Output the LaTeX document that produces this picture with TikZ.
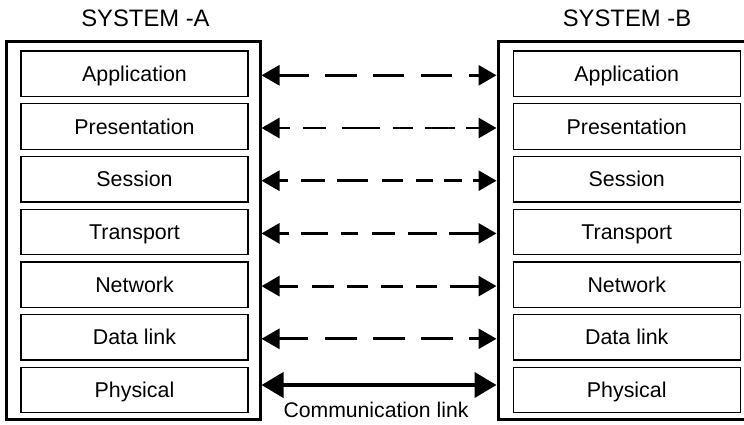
\documentclass[tikz,border=0pt]{standalone}
\usepackage{fontspec}
\setmainfont{Liberation Sans}
\usetikzlibrary{arrows.meta,calc}
\begin{document}
\begin{tikzpicture}[x=1pt,y=-1pt,
  outerbox/.style={draw, line width=3pt, minimum width=254pt, minimum height=378pt, inner sep=0pt},
  layer/.style={draw, line width=1.3pt, minimum width=227pt, minimum height=45.5pt,
    inner sep=0pt, text height=15.2pt, text depth=0pt, font=\fontsize{21.4}{24}\selectfont},
  systitle/.style={anchor=base, inner sep=0pt, font=\fontsize{23.8}{27}\selectfont},
  linklabel/.style={anchor=base, inner sep=0pt, font=\fontsize{21.2}{24}\selectfont},
  peer/.style={line width=2.8pt,
    {Triangle[length=18pt,width=20pt]}-{Triangle[length=18pt,width=20pt]}},
  physlink/.style={line width=4pt,
    {Triangle[length=22pt,width=25pt]}-{Triangle[length=22pt,width=25pt]}},
  dashA/.style={dash pattern=on 30pt off 16pt on 32pt off 16pt on 31pt off 17pt on 31pt off 17pt on 60pt off 0pt},
  dashB/.style={dash pattern=on 11pt off 13pt on 23pt off 16pt on 38pt off 13pt on 20pt off 12pt on 30pt off 11pt on 60pt off 0pt},
  dashC/.style={dash pattern=on 9pt off 13pt on 24pt off 12pt on 31pt off 14pt on 21pt off 13pt on 17pt off 11pt on 18pt off 11pt on 60pt off 0pt},
  dashD/.style={dash pattern=on 10pt off 12pt on 27pt off 13pt on 17pt off 14pt on 23pt off 13pt on 29pt off 12pt on 60pt off 0pt},
  dashE/.style={dash pattern=on 19pt off 14pt on 22pt off 13pt on 21pt off 13pt on 22pt off 13pt on 21pt off 13pt on 60pt off 0pt},
  dashF/.style={dash pattern=on 29pt off 17pt on 32pt off 16pt on 32pt off 16pt on 32pt off 16pt on 60pt off 0pt}
]
\useasboundingbox (0,0) rectangle (744,424);

% system titles
\node[systitle] (titleA) at (145.5,26) {SYSTEM -A};
\node[systitle] (titleB) at (627,26) {SYSTEM -B};

% outer system frames
\node[outerbox] (sysA) at (133,230) {};
\node[outerbox] (sysB) at (625,230) {};

% protocol layers of both systems
\foreach \name [count=\i] in {Application,Presentation,Session,Transport,Network,Data link,Physical} {
  \node[layer] (a\i) at (134.5,{73.8+52.7*(\i-1)}) {\name};
  \node[layer] (b\i) at (626.75,{73.8+52.7*(\i-1)}) {\name};
}

% peer-to-peer (virtual) communication between layers
\foreach \i/\pat in {1/dashA,2/dashB,3/dashC,4/dashD,5/dashE,6/dashF} {
  \draw[peer,\pat] ($(sysA.east |- a\i)+(0,1.5)$) -- ($(sysB.west |- b\i)+(0,1.5)$);
}

% physical link
\coordinate (physA) at ($(sysA.east |- a7)+(0,-5)$);
\coordinate (physB) at ($(sysB.west |- b7)+(0,-5)$);
\draw[physlink] (physA) -- (physB);
\node[linklabel] (link) at (376,417) {Communication link};
\end{tikzpicture}
\end{document}
